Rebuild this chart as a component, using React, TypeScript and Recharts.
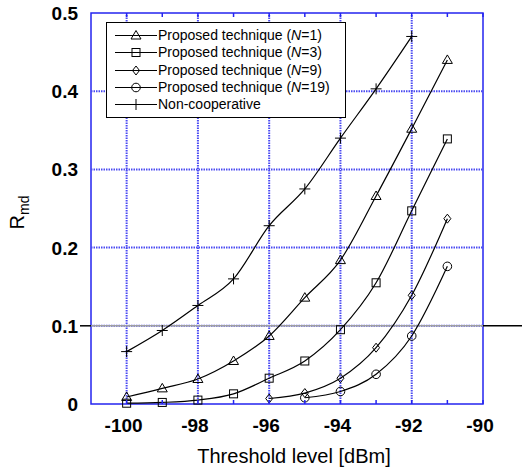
import {
  LineChart, Line, XAxis, YAxis, CartesianGrid, Legend,
  ReferenceLine, ReferenceArea,
} from 'recharts';

// ─── Data ─────────────────────────────────────────────────────────────────────

const thresholds = [-100, -99, -98, -97, -96, -95, -94, -93, -92, -91];

const nonCoop = [0.067, 0.094, 0.126, 0.160, 0.228, 0.275, 0.340, 0.403, 0.470, null];
const n1      = [0.009, 0.020, 0.032, 0.055, 0.087, 0.136, 0.184, 0.266, 0.352, 0.440];
const n3      = [0.001, 0.002, 0.005, 0.013, 0.033, 0.055, 0.095, 0.155, 0.247, 0.339];
const n9      = [null, null, null, null, 0.007, 0.014, 0.033, 0.072, 0.139, 0.237];
const n19     = [null, null, null, null, null, 0.008, 0.016, 0.038, 0.087, 0.176];

const xTicks = [-100, -99, -98, -97, -96, -95, -94, -93, -92, -91, -90];
const yTicks = [0, 0.1, 0.2, 0.3, 0.4, 0.5];
const xGrid  = [-100, -98, -96, -94, -92];
const yGrid  = [0.1, 0.2, 0.3, 0.4];

const data = thresholds.map((t, i) => ({
  t, nonCoop: nonCoop[i], n1: n1[i], n3: n3[i], n9: n9[i], n19: n19[i],
}));

// ─── Layout ───────────────────────────────────────────────────────────────────

const W = 522;
const H = 471;
const M = { top: 13, right: 39, bottom: 0, left: 0 };
const Y_AXIS_W = 91;
const X_AXIS_H = 67;
const PLOT_TOP = M.top;
const PLOT_BOTTOM = H - X_AXIS_H;
const BLUE = '#2424f0';
const GRID_BLUE = '#4a4af2';
const FONT = '"Liberation Sans", Arial, sans-serif';

type Shape = 'triangle' | 'square' | 'diamond' | 'circle' | 'plus';

const series: { key: string; name: string; n?: string; shape: Shape }[] = [
  { key: 'n1',      name: 'Proposed technique', n: '1',  shape: 'triangle' },
  { key: 'n3',      name: 'Proposed technique', n: '3',  shape: 'square' },
  { key: 'n9',      name: 'Proposed technique', n: '9',  shape: 'diamond' },
  { key: 'n19',     name: 'Proposed technique', n: '19', shape: 'circle' },
  { key: 'nonCoop', name: 'Non-cooperative',             shape: 'plus' },
];

// ─── Markers ──────────────────────────────────────────────────────────────────

function Marker({ shape, cx, cy }: { shape: Shape; cx: number; cy: number }) {
  const p = { fill: 'none', stroke: '#000', strokeWidth: 1 };
  switch (shape) {
    case 'triangle':
      return <polygon {...p} points={`${cx},${cy - 5} ${cx - 5},${cy + 3.5} ${cx + 5},${cy + 3.5}`} />;
    case 'square':
      return <rect {...p} x={cx - 4} y={cy - 4} width={8} height={8} />;
    case 'diamond':
      return <polygon {...p} points={`${cx},${cy - 4.5} ${cx + 3.5},${cy} ${cx},${cy + 4.5} ${cx - 3.5},${cy}`} />;
    case 'circle':
      return <circle {...p} cx={cx} cy={cy} r={4.3} />;
    default:
      return (
        <g {...p}>
          <line x1={cx - 5.5} y1={cy} x2={cx + 5.5} y2={cy} />
          <line x1={cx} y1={cy - 5.5} x2={cx} y2={cy + 5.5} />
        </g>
      );
  }
}

// eslint-disable-next-line @typescript-eslint/no-explicit-any
const makeDot = (shape: Shape) => (props: any) => {
  const { cx, cy, index } = props;
  if (cx == null || cy == null || props.value == null) return <g key={index} />;
  return <Marker key={index} shape={shape} cx={cx} cy={cy} />;
};

// ─── Axis pieces ──────────────────────────────────────────────────────────────

// eslint-disable-next-line @typescript-eslint/no-explicit-any
function XTick(props: any) {
  const { x, payload } = props;
  const v = payload.value as number;
  return (
    <g>
      <line x1={x} y1={PLOT_BOTTOM} x2={x} y2={PLOT_BOTTOM - 4} stroke={BLUE} strokeWidth={1.5} />
      <line x1={x} y1={PLOT_TOP} x2={x} y2={PLOT_TOP + 4} stroke={BLUE} strokeWidth={1.5} />
      {v % 2 === 0 && (
        <text x={x - 3} y={PLOT_BOTTOM + 28} textAnchor="middle" fontFamily={FONT}
          fontWeight="bold" fontSize={19} fill="#000">{v}</text>
      )}
    </g>
  );
}

// eslint-disable-next-line @typescript-eslint/no-explicit-any
function YTick(props: any) {
  const { y, payload } = props;
  const v = payload.value as number;
  return (
    <text x={Y_AXIS_W - 13} y={y + 7} textAnchor="end" fontFamily={FONT}
      fontWeight="bold" fontSize={19} fill="#000">{v === 0 ? '0' : v.toFixed(1)}</text>
  );
}

// eslint-disable-next-line @typescript-eslint/no-explicit-any
function YLabel(props: any) {
  const { viewBox } = props;
  const cy = viewBox.y + viewBox.height / 2 + 4;
  const cx = 24;
  return (
    <text transform={`rotate(-90 ${cx} ${cy})`} x={cx} y={cy} textAnchor="middle"
      fontFamily={FONT} fontSize={20} fill="#000">
      R<tspan fontSize={14} dy={5}>md</tspan>
    </text>
  );
}

// eslint-disable-next-line @typescript-eslint/no-explicit-any
function XLabel(props: any) {
  const { viewBox } = props;
  return (
    <text x={viewBox.x + viewBox.width / 2 + 7} y={H - 8} textAnchor="middle"
      fontFamily={FONT} fontSize={20} fill="#000">Threshold level [dBm]</text>
  );
}

// The 0.1 line runs across the whole figure: grey inside the frame, black outside
// eslint-disable-next-line @typescript-eslint/no-explicit-any
function TenPercentLine(props: any) {
  const { x1, x2, y1 } = props;
  return (
    <g>
      <line x1={x1 - 11} y1={y1} x2={x1} y2={y1} stroke="#000" strokeWidth={1.5} />
      <line x1={x1} y1={y1} x2={x2} y2={y1} stroke="#a0a0a0" strokeWidth={1.5} />
      <line x1={x2} y1={y1} x2={W} y2={y1} stroke="#000" strokeWidth={1.5} />
    </g>
  );
}

// ─── Legend ───────────────────────────────────────────────────────────────────

function LegendBox() {
  return (
    <div style={{
      border: '1.5px solid #000', background: '#fff', width: 240, padding: '4px 0 4px 0',
      fontFamily: FONT, fontSize: 14, lineHeight: '17.3px', color: '#000', boxSizing: 'border-box',
    }}>
      {series.map((s) => (
        <div key={s.key} style={{ display: 'flex', alignItems: 'center', whiteSpace: 'nowrap' }}>
          <svg width={50} height={17} style={{ display: 'block', flex: 'none' }}>
            <line x1={8} y1={8.5} x2={50} y2={8.5} stroke="#000" strokeWidth={1} />
            <Marker shape={s.shape} cx={29} cy={8.5} />
          </svg>
          <span style={{ marginLeft: 1 }}>
            {s.n ? <>{s.name} (<i>N</i>={s.n})</> : s.name}
          </span>
        </div>
      ))}
    </div>
  );
}

// ─── Component ────────────────────────────────────────────────────────────────

export default function App() {
  return (
    <div style={{ position: 'absolute', left: 0, top: 0, background: '#fff' }}>
      <LineChart width={W} height={H} data={data} margin={M}>
        <CartesianGrid horizontal={false} vertical={false} />
        {xGrid.map((v) => (
          <ReferenceLine key={`gx${v}`} x={v} stroke={GRID_BLUE} strokeWidth={2} strokeDasharray="1.5 1" />
        ))}
        {yGrid.map((v) => (
          <ReferenceLine key={`gy${v}`} y={v} stroke={GRID_BLUE} strokeWidth={2} strokeDasharray="1.5 1" />
        ))}
        <ReferenceLine y={0.1} shape={<TenPercentLine />} />
        <ReferenceArea x1={-101} x2={-90} y1={0} y2={0.5} fill="none" stroke={BLUE} strokeWidth={1.5} />
        <XAxis
          dataKey="t"
          type="number"
          domain={[-101, -90]}
          ticks={xTicks}
          interval={0}
          height={X_AXIS_H}
          axisLine={false}
          tickLine={false}
          tick={<XTick />}
          label={<XLabel />}
        />
        <YAxis
          type="number"
          domain={[0, 0.5]}
          ticks={yTicks}
          width={Y_AXIS_W}
          axisLine={false}
          tickLine={false}
          tick={<YTick />}
          label={<YLabel />}
        />
        <Legend
          layout="vertical"
          align="center"
          verticalAlign="middle"
          wrapperStyle={{ left: 106, top: 22, width: 240 }}
          content={<LegendBox />}
        />
        {series.map((s) => (
          <Line
            key={s.key}
            dataKey={s.key}
            type="monotone"
            stroke="#000"
            strokeWidth={1.2}
            dot={makeDot(s.shape)}
            activeDot={false}
            connectNulls={false}
            isAnimationActive={false}
          />
        ))}
      </LineChart>
    </div>
  );
}
